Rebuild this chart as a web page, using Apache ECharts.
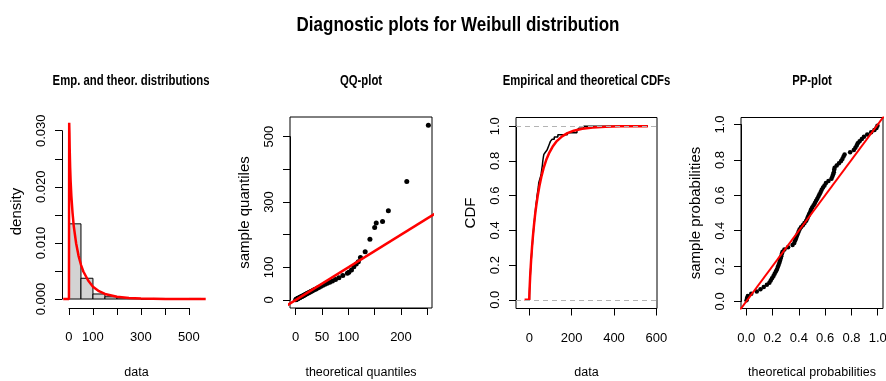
<!DOCTYPE html>
<html>
<head>
<meta charset="utf-8">
<title>Diagnostic plots for Weibull distribution</title>
<script src="https://cdn.jsdelivr.net/npm/echarts@6/dist/echarts.min.js"></script>
<style>
  html, body { margin: 0; padding: 0; background: #fff; }
  #chart { width: 886px; height: 381px; }
</style>
</head>
<body>
<div id="chart"></div>
<script>
// histogram (density scale) and fitted density curve
const histBreaks = [0, 50, 100, 150, 200, 250, 300, 350, 400, 450, 500, 550]
const histDensity = [0.0134, 0.0037, 0.0009, 0.0004, 0.0002, 0.0001, 0, 0.0001, 0, 0, 0.0001]
const densX = [-24, 0, 1, 2, 3, 5, 7, 10, 15, 20, 30, 40, 50, 60, 80, 100, 125, 150, 200, 250, 300, 400, 500, 570]
const densY = [0, 0, 0.0314, 0.0296, 0.0269, 0.0234, 0.0210, 0.0184, 0.0153, 0.0130, 0.0099, 0.0077, 0.0061,
  0.0049, 0.0033, 0.0022, 0.0014, 0.0009, 0.0004, 0.0002, 0.0001, 0.00002, 0.000005, 0]

// QQ-plot
const qqTheoretical = [0.2, 0.8, 1.5, 2.2, 3.0, 3.9, 4.8, 5.8, 6.8, 7.9, 9.1, 10.3, 11.6, 12.9, 14.4, 15.8, 17.4,
  19.0, 20.8, 22.6, 24.5, 26.5, 28.7, 30.9, 33.4, 35.9, 38.6, 41.6, 44.7, 48.0, 51.7, 55.6, 59.9, 64.6, 69.8,
  75.6, 82.1, 89.5, 98.2, 101, 106, 110.5, 115, 119, 123, 132, 141, 150, 153, 165, 176, 211, 252]
const qqSample = [1.0, 1.8, 2.5, 3.2, 4.0, 4.8, 5.5, 6.3, 7.2, 8.0, 9.0, 10.0, 11.0, 12.1, 13.3, 14.6, 16.0,
  17.4, 19.0, 20.6, 22.2, 23.9, 25.7, 27.5, 29.6, 31.8, 34.0, 36.5, 39.2, 42.0, 45.0, 48.0, 51.0, 54.5, 58.5,
  63.0, 68.0, 75.0, 82.0, 85, 92, 102, 110, 117, 130, 148, 186, 222, 236, 240, 273, 363, 535]

// empirical (step) and theoretical CDFs
const ecdfX = [-10, 0.8, 1.4, 2.3, 3.2, 4.3, 5.2, 6.5, 7.8, 9.0, 10.5, 12, 13.5, 15, 16.5, 18.5, 20, 22, 24, 26, 28,
  30, 32, 35, 37, 38.5, 40, 41.5, 43, 44, 45, 48, 51, 54, 56, 57.5, 59, 60.5, 62, 63, 64, 65.5, 67, 69, 76, 84,
  88, 92, 96, 100, 108, 118, 135, 180, 225, 233, 257, 560]
const ecdfY = [0, 0.025, 0.05, 0.075, 0.1, 0.125, 0.15, 0.175, 0.2, 0.225, 0.25, 0.275, 0.3, 0.325, 0.35, 0.375,
  0.4, 0.425, 0.45, 0.475, 0.5, 0.525, 0.55, 0.575, 0.6, 0.6125, 0.625, 0.6375, 0.65, 0.6625, 0.675, 0.6875,
  0.7, 0.7125, 0.725, 0.7375, 0.75, 0.7625, 0.775, 0.7875, 0.8, 0.8125, 0.825, 0.8375, 0.85, 0.8625, 0.875,
  0.8875, 0.9, 0.9125, 0.925, 0.9375, 0.95, 0.9625, 0.975, 0.9875, 1.0, 1.0]
const cdfX = [-22, 0, 1, 2, 4, 6, 9, 13, 17, 22, 27, 33, 40, 48, 57, 68, 80, 95, 110, 130, 155, 180, 210, 250,
  300, 360, 430, 500, 560]
const cdfY = [0, 0, 0.041, 0.072, 0.125, 0.171, 0.232, 0.301, 0.361, 0.426, 0.483, 0.541, 0.599, 0.655, 0.708,
  0.760, 0.805, 0.848, 0.881, 0.914, 0.941, 0.960, 0.974, 0.985, 0.993, 0.997, 0.999, 0.9995, 0.9998]

// PP-plot
const ppTheoretical = [0.002, 0.006, 0.012, 0.038, 0.080, 0.108, 0.133, 0.157, 0.176, 0.186, 0.196, 0.207, 0.216,
  0.225, 0.233, 0.240, 0.246, 0.252, 0.257, 0.262, 0.266, 0.271, 0.276, 0.290, 0.318, 0.352, 0.365, 0.372,
  0.378, 0.384, 0.391, 0.398, 0.405, 0.416, 0.430, 0.443, 0.456, 0.464, 0.471, 0.478, 0.486, 0.492, 0.501,
  0.512, 0.522, 0.531, 0.540, 0.549, 0.557, 0.566, 0.574, 0.584, 0.595, 0.606, 0.625, 0.648, 0.655, 0.661,
  0.666, 0.669, 0.672, 0.688, 0.705, 0.721, 0.731, 0.740, 0.748, 0.790, 0.818, 0.830, 0.840, 0.848, 0.862,
  0.879, 0.895, 0.920, 0.950, 0.975, 0.990, 0.998]
const ppEmpirical = [0.006, 0.019, 0.031, 0.044, 0.056, 0.069, 0.081, 0.094, 0.106, 0.119, 0.131, 0.144, 0.156,
  0.169, 0.181, 0.194, 0.206, 0.219, 0.231, 0.244, 0.256, 0.269, 0.281, 0.294, 0.306, 0.319, 0.331, 0.344,
  0.356, 0.369, 0.381, 0.394, 0.406, 0.419, 0.431, 0.444, 0.456, 0.469, 0.481, 0.494, 0.506, 0.519, 0.531,
  0.544, 0.556, 0.569, 0.581, 0.594, 0.606, 0.619, 0.631, 0.644, 0.656, 0.669, 0.681, 0.694, 0.706, 0.719,
  0.731, 0.744, 0.756, 0.769, 0.781, 0.794, 0.806, 0.819, 0.831, 0.844, 0.856, 0.869, 0.881, 0.894, 0.906,
  0.919, 0.931, 0.944, 0.956, 0.969, 0.981, 0.994]

// reference line y = x, clipped by the plot region
const identityLine = [-100, 1000]

// ticks and the labels R kept
const histXTicks = [0, 100, 200, 300, 400, 500]
const histXLabels = [0, 100, 300, 500]
const histYTicks = [0, 0.005, 0.01, 0.015, 0.02, 0.025, 0.03]
const histYLabels = [0, 0.01, 0.02, 0.03]
const qqXTicks = [0, 50, 100, 150, 200, 250]
const qqXLabels = [0, 50, 100, 200]
const qqYTicks = [0, 100, 200, 300, 400, 500]
const qqYLabels = [0, 100, 300, 500]
const cdfXTicks = [0, 200, 400, 600]
const probTicks = [0, 0.2, 0.4, 0.6, 0.8, 1]

const FONT = "'Liberation Sans', Arial, sans-serif"
const RED = '#ff0000'
// the reference is squeezed sideways, so horizontal titles are narrowed a bit
const SQUEEZE = 0.81

const zip = (a, b) => a.map((v, i) => [v, b[i]])

const panels = [
  {
    title: 'Emp. and theor. distributions', titleX: 131, box: false,
    px: [62, 115, 211, 308], xr: [-29, 592], yr: [-0.0016, 0.0328],
    xTicks: histXTicks, xLabels: histXLabels, xDigits: 0,
    yTicks: histYTicks, yLabels: histYLabels, yDigits: 3,
    xName: 'data', yName: 'density'
  },
  {
    title: 'QQ-plot', box: true,
    px: [290, 117, 432, 308], xr: [-10.8, 258.9], yr: [-24.5, 560.3],
    xTicks: qqXTicks, xLabels: qqXLabels, xDigits: 0,
    yTicks: qqYTicks, yLabels: qqYLabels, yDigits: 0,
    xName: 'theoretical quantiles', yName: 'sample quantiles'
  },
  {
    title: 'Empirical and theoretical CDFs', box: true,
    px: [516, 117.5, 657, 308.5], xr: [-62.5, 602.9], yr: [-0.05, 1.05],
    xTicks: cdfXTicks, xLabels: cdfXTicks, xDigits: 0,
    yTicks: probTicks, yLabels: probTicks, yDigits: 1,
    xName: 'data', yName: 'CDF'
  },
  {
    title: 'PP-plot', box: true,
    px: [741, 117.5, 883, 308.5], xr: [-0.04, 1.04], yr: [-0.04, 1.04],
    xTicks: probTicks, xLabels: probTicks, xDigits: 1,
    yTicks: probTicks, yLabels: probTicks, yDigits: 1,
    xName: 'theoretical probabilities', yName: 'sample probabilities'
  }
]

const grids = []
const xAxes = []
const yAxes = []

function titleText(text, x, y, size) {
  return {
    type: 'text', x: x, y: y, scaleX: SQUEEZE, silent: true,
    style: {
      text: text, fill: '#000', font: 'bold ' + size + 'px ' + FONT,
      textAlign: 'center', textVerticalAlign: 'middle', align: 'center', verticalAlign: 'middle'
    }
  }
}
const graphics = [titleText('Diagnostic plots for Weibull distribution', 458, 25, 21)]

const hasLabel = (v, list) => list.some(l => Math.abs(l - v) < 1e-9)
const hidden = { show: false }

function addPanel(p) {
  const [L, T, R, B] = p.px
  const sx = (R - L) / (p.xr[1] - p.xr[0])
  const sy = (B - T) / (p.yr[1] - p.yr[0])

  // plot region: holds the data scales, the box and the axis titles
  const g = grids.length
  grids.push({ left: L, top: T, width: R - L, height: B - T, show: p.box, borderColor: '#000', borderWidth: 1,
    backgroundColor: 'transparent', outerBoundsMode: 'none' })
  xAxes.push({
    gridIndex: g, type: 'value', min: p.xr[0], max: p.xr[1],
    axisLine: hidden, axisTick: hidden, axisLabel: hidden, splitLine: hidden,
    name: p.xName, nameLocation: 'middle', nameGap: 58,
    nameTextStyle: { fontFamily: FONT, fontSize: 12.5, color: '#000' }
  })
  yAxes.push({
    gridIndex: g, type: 'value', min: p.yr[0], max: p.yr[1],
    axisLine: hidden, axisTick: hidden, axisLabel: hidden, splitLine: hidden,
    name: p.yName, nameLocation: 'middle', nameGap: 38,
    nameTextStyle: { fontFamily: FONT, fontSize: 15, color: '#000' }
  })

  // R-style axes: the line runs from the first to the last tick only
  const x0 = p.xTicks[0], x1 = p.xTicks[p.xTicks.length - 1]
  const gx = grids.length
  grids.push({ left: L + (x0 - p.xr[0]) * sx, width: (x1 - x0) * sx, top: T, height: B - T, outerBoundsMode: 'none' })
  xAxes.push({
    gridIndex: gx, type: 'value', min: x0, max: x1, interval: p.xTicks[1] - p.xTicks[0],
    axisLine: { show: true, lineStyle: { color: '#000', width: 1 } },
    axisTick: { show: true, length: 7, lineStyle: { color: '#000', width: 1 } },
    splitLine: hidden,
    axisLabel: {
      margin: 23, showMinLabel: true, showMaxLabel: true,
      fontFamily: FONT, fontSize: 13, color: '#000',
      formatter: v => hasLabel(v, p.xLabels) ? v.toFixed(p.xDigits) : ''
    }
  })
  yAxes.push({ gridIndex: gx, type: 'value', show: false, min: 0, max: 1 })

  const y0 = p.yTicks[0], y1 = p.yTicks[p.yTicks.length - 1]
  const gy = grids.length
  grids.push({ left: L, width: R - L, top: T + (p.yr[1] - y1) * sy, height: (y1 - y0) * sy, outerBoundsMode: 'none' })
  xAxes.push({ gridIndex: gy, type: 'value', show: false, min: 0, max: 1 })
  yAxes.push({
    gridIndex: gy, type: 'value', min: y0, max: y1, interval: p.yTicks[1] - p.yTicks[0],
    axisLine: { show: true, lineStyle: { color: '#000', width: 1 } },
    axisTick: { show: true, length: 7, lineStyle: { color: '#000', width: 1 } },
    splitLine: hidden,
    axisLabel: {
      rotate: 90, margin: 14, showMinLabel: true, showMaxLabel: true,
      fontFamily: FONT, fontSize: 13, color: '#000',
      formatter: v => hasLabel(v, p.yLabels) ? v.toFixed(p.yDigits) : ''
    }
  })

  graphics.push(titleText(p.title, p.titleX || (L + R) / 2, 81.5, 14))
  return g
}

const idx = panels.map(addPanel)

const series = [
  {
    type: 'custom', xAxisIndex: idx[0], yAxisIndex: idx[0],
    data: histDensity.map((d, i) => [histBreaks[i], histBreaks[i + 1], d]),
    encode: { x: [0, 1], y: 2 },
    renderItem: (params, api) => {
      const topLeft = api.coord([api.value(0), api.value(2)])
      const bottomRight = api.coord([api.value(1), 0])
      return {
        type: 'rect',
        shape: { x: topLeft[0], y: topLeft[1], width: bottomRight[0] - topLeft[0], height: bottomRight[1] - topLeft[1] },
        style: { fill: '#d3d3d3', stroke: '#000', lineWidth: 1 }
      }
    }
  },
  {
    type: 'line', xAxisIndex: idx[0], yAxisIndex: idx[0], data: zip(densX, densY),
    showSymbol: false, lineStyle: { color: RED, width: 2.5 }
  },
  {
    type: 'scatter', xAxisIndex: idx[1], yAxisIndex: idx[1], data: zip(qqTheoretical, qqSample),
    symbolSize: 5, itemStyle: { color: '#000', opacity: 1 }
  },
  {
    type: 'line', xAxisIndex: idx[1], yAxisIndex: idx[1], data: identityLine.map(v => [v, v]),
    showSymbol: false, clip: true, lineStyle: { color: RED, width: 2.5 }
  },
  {
    type: 'line', xAxisIndex: idx[2], yAxisIndex: idx[2], data: zip(ecdfX, ecdfY), step: 'end',
    showSymbol: false, lineStyle: { color: '#000', width: 1.5 },
    markLine: {
      silent: true, symbol: 'none', label: hidden,
      lineStyle: { color: '#b4b4b4', type: [5, 4], width: 1 },
      data: [{ yAxis: 0 }, { yAxis: 1 }]
    }
  },
  {
    type: 'line', xAxisIndex: idx[2], yAxisIndex: idx[2], data: zip(cdfX, cdfY),
    showSymbol: false, lineStyle: { color: RED, width: 2.5 }
  },
  {
    type: 'scatter', xAxisIndex: idx[3], yAxisIndex: idx[3], data: zip(ppTheoretical, ppEmpirical),
    symbolSize: 4.5, itemStyle: { color: '#000', opacity: 1 }
  },
  {
    type: 'line', xAxisIndex: idx[3], yAxisIndex: idx[3], data: identityLine.map(v => [v, v]),
    showSymbol: false, clip: true, lineStyle: { color: RED, width: 2 }
  }
]

const chart = echarts.init(document.getElementById('chart'), null, { renderer: 'canvas' })
chart.setOption({
  animation: false,
  backgroundColor: '#fff',
  graphic: graphics,
  grid: grids,
  xAxis: xAxes,
  yAxis: yAxes,
  series: series
})
</script>
</body>
</html>
